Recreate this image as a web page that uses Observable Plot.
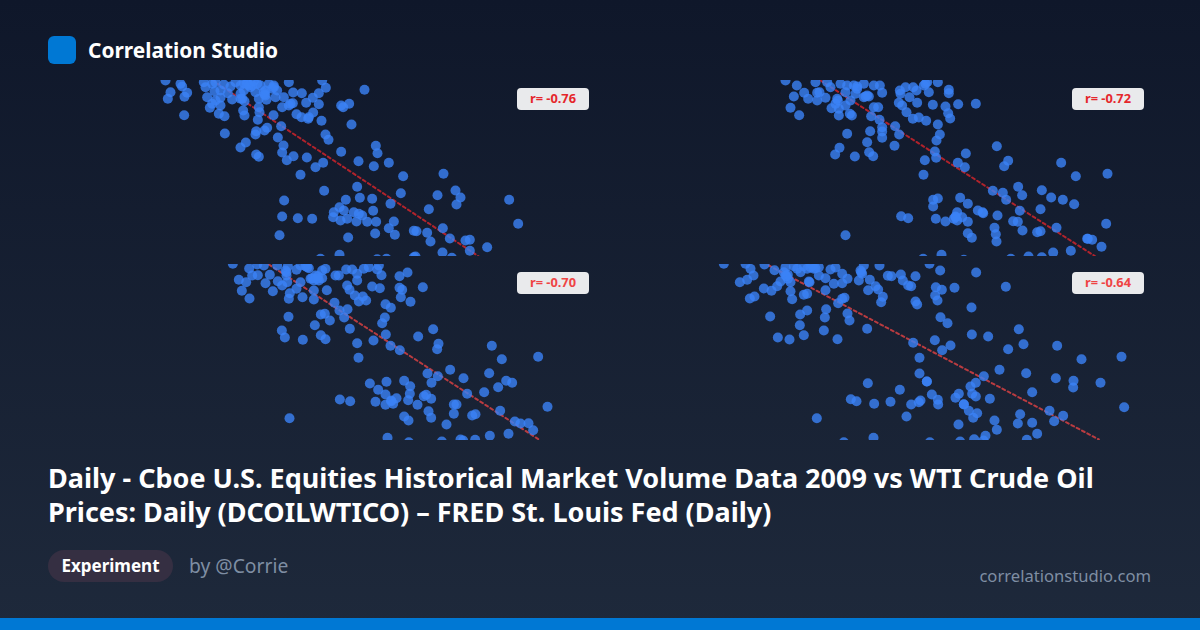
<!DOCTYPE html>
<html><head><meta charset="utf-8">
<script src="https://cdn.jsdelivr.net/npm/d3@7"></script>
<script src="https://cdn.jsdelivr.net/npm/@observablehq/plot@0.6"></script>
<style>
html,body{margin:0;padding:0}
body{width:1200px;height:630px;position:relative;overflow:hidden;background:linear-gradient(180deg,#0f172a 0%,#1e293b 100%);font-family:"Noto Sans",sans-serif;color:#fff}
.abs{position:absolute}
.logo{left:48px;top:36px;width:28px;height:28px;border-radius:6px;background:#0078d4}
.brand{left:88px;top:36px;line-height:28px;font-size:20.9px;font-weight:700;white-space:nowrap}
.panel{width:548px;height:176px}
.panel svg{display:block}
.badge{top:8px;width:72px;height:22px;line-height:21px;border-radius:4px;background:#e9eaec;font-size:12.8px;font-weight:700;text-align:center;white-space:nowrap}
.title{left:48px;top:461px;width:1104px;font-size:27px;line-height:34px;font-weight:700}
.pill{left:48px;top:550px;height:32px;line-height:32px;width:125px;text-align:center;border-radius:16px;background:#352f42;font-size:17px;font-weight:700}
.by{left:189px;top:550px;line-height:32px;font-size:19.3px;color:#7f8ea3}
.site{right:49px;top:560px;line-height:32px;font-size:16.6px;color:#7f8ea3}
.bar{left:0;top:618px;width:1200px;height:12px;background:#0078d4}
</style></head><body>
<div class="abs logo"></div><div class="abs brand">Correlation Studio</div>
<div id="charts"></div>
<div class="abs title">Daily - Cboe U.S. Equities Historical Market Volume Data 2009 vs WTI Crude Oil Prices: Daily (DCOILWTICO) – FRED St. Louis Fed (Daily)</div>
<div class="abs pill">Experiment</div><div class="abs by">by @Corrie</div>
<div class="abs site">correlationstudio.com</div><div class="abs bar"></div>
<script>
// Values, in reading units of each panel
const rValues = [-0.76, -0.72, -0.70, -0.64];
const xDomains = [[-276,1368],[-288,1356],[-456,1188],[-288,1356]];
const yDomains = [[30,558],[30,558],[27,555],[27,555]];
const trendA = [[217,30],[1015,558]];
const trendB = [[360,30],[1185,558]];
const trendC = [[205,27],[1015,552]];
const trendD = [[205,30],[1195,552]];
const pointsA = [[75,30],[120,40],[125,48],[90,65],[140,67],[132,79],[82,85],[131,134],[195,50],[200,80],[222,62],[240,82],[215,100],[240,105],[208,112],[235,130],[252,137],[253,189],[190,35],[215,40],[250,42],[270,48],[262,68],[275,87],[225,90],[300,85],[312,92],[308,120],[312,135],[300,45],[320,40],[335,45],[310,60],[345,65],[360,45],[385,40],[400,50],[375,75],[378,88],[355,85],[410,60],[405,80],[430,80],[445,35],[458,66],[484,68],[425,110],[445,105],[457,98],[497,97],[517,82],[535,68],[556,52],[545,30],[535,101],[518,126],[468,131],[483,140],[503,145],[505,140],[543,151],[602,105],[608,110],[626,100],[672,58],[633,162],[355,110],[357,125],[352,148],[399,134],[422,167],[380,172],[372,180],[347,182],[345,192],[412,201],[316,216],[300,231],[429,225],[425,246],[347,252],[355,259],[459,257],[439,269],[499,261],[548,277],[525,290],[480,313],[555,192],[564,208],[602,244],[654,272],[700,287],[706,226],[711,248],[745,277],[788,317],[909,310],[650,349],[551,361],[431,390],[616,388],[658,382],[695,385],[781,368],[750,400],[891,374],[945,360],[960,381],[948,402],[865,416],[1106,388],[1133,460],[597,410],[580,425],[610,420],[578,440],[600,450],[620,445],[640,425],[655,430],[665,435],[648,453],[680,454],[698,421],[707,454],[425,438],[472,443],[515,445],[417,494],[623,501],[704,489],[745,473],[763,493],[760,453],[820,481],[828,482],[860,487],[907,473],[870,513],[928,504],[975,510],[988,508],[988,541],[1040,530],[906,546],[934,562],[825,558],[820,560],[738,565],[597,553],[540,565],[710,566],[320,35],[330,50],[350,40],[370,65],[395,55],[300,70],[305,85],[450,100],[310,38],[325,45],[375,60],[400,45],[372,72],[285,35],[225,35],[240,60],[340,32]];
const pointsB = [[255,30],[289,45],[311,67],[280,78],[323,85],[350,90],[350,67],[357,65],[375,82],[270,112],[296,134],[345,35],[380,35],[390,50],[420,40],[435,65],[410,85],[405,100],[393,113],[415,115],[415,135],[435,105],[450,90],[448,130],[454,135],[440,45],[460,45],[470,55],[490,40],[465,70],[490,80],[500,75],[505,78],[520,45],[538,45],[545,67],[520,110],[533,110],[512,137],[537,148],[545,170],[545,183],[545,202],[509,182],[440,190],[500,215],[417,232],[404,252],[463,258],[506,245],[518,257],[582,226],[584,167],[596,192],[598,60],[600,70],[615,50],[638,50],[648,60],[627,80],[595,97],[605,105],[618,125],[637,145],[655,141],[677,151],[650,97],[697,103],[735,108],[773,101],[826,100],[745,58],[745,68],[685,65],[670,45],[680,35],[712,35],[743,128],[749,144],[712,162],[718,192],[708,210],[703,243],[707,262],[673,269],[669,313],[796,249],[772,277],[793,290],[889,227],[923,271],[911,287],[1082,277],[1126,317],[1221,310],[877,361],[907,367],[917,388],[953,349],[965,374],[1024,359],[1052,381],[1087,388],[1121,401],[1020,416],[958,421],[698,388],[712,384],[698,408],[779,382],[802,400],[770,425],[765,438],[760,445],[785,440],[770,450],[735,453],[706,445],[802,454],[832,420],[846,425],[891,435],[938,452],[952,454],[882,472],[886,491],[888,513],[966,480],[1010,485],[1020,482],[1068,472],[1217,460],[802,488],[814,502],[602,437],[623,443],[435,494],[1160,505],[1175,508],[1203,529],[1111,541],[1058,546],[1024,560],[984,558],[931,565],[723,553],[790,568],[668,565],[495,78],[470,48],[412,90],[765,440],[848,428],[1162,505],[675,40]];
const pointsC = [[97,25],[146,39],[115,73],[137,80],[124,106],[147,129],[155,60],[172,59],[170,27],[195,83],[208,58],[217,107],[190,30],[232,77],[245,90],[255,45],[258,60],[260,80],[268,113],[265,130],[288,100],[300,80],[288,43],[300,30],[320,35],[330,70],[340,75],[355,75],[365,68],[375,40],[365,45],[345,60],[340,105],[379,104],[306,125],[340,132],[402,142],[405,60],[415,60],[437,42],[455,42],[440,90],[447,103],[463,120],[487,123],[475,138],[497,135],[470,75],[470,55],[490,40],[505,35],[535,30],[543,59],[515,93],[538,98],[597,62],[621,51],[597,97],[605,103],[601,125],[630,139],[667,95],[555,146],[571,157],[553,186],[545,203],[417,165],[441,161],[431,186],[448,220],[388,195],[373,175],[361,177],[343,209],[264,184],[244,225],[253,246],[307,253],[361,239],[375,251],[470,263],[519,255],[556,237],[570,271],[598,284],[474,307],[653,243],[698,221],[714,265],[710,281],[874,271],[904,311],[1013,304],[681,354],[712,362],[749,343],[789,368],[693,382],[866,353],[917,376],[935,382],[893,395],[851,410],[800,415],[508,384],[558,379],[611,376],[629,392],[533,403],[555,417],[628,415],[623,434],[588,428],[572,437],[578,445],[555,448],[525,439],[418,432],[449,437],[651,448],[670,422],[677,418],[692,430],[760,447],[768,447],[760,475],[684,467],[692,487],[611,483],[624,495],[738,507],[815,480],[825,476],[899,466],[943,498],[960,504],[984,503],[998,524],[924,535],[868,541],[824,553],[780,552],[788,555],[724,558],[561,547],[267,488],[1041,454],[625,560],[335,68],[350,70],[325,38],[315,32],[258,50],[572,435],[352,62],[230,30],[262,32],[530,42]];
const pointsD = [[70,25],[135,25],[150,40],[159,60],[140,73],[118,80],[192,27],[222,44],[190,99],[213,106],[230,92],[240,78],[255,60],[262,70],[270,80],[270,107],[275,131],[162,123],[148,129],[310,118],[320,115],[327,80],[290,40],[320,40],[340,40],[355,35],[255,35],[300,50],[355,60],[375,68],[390,42],[405,36],[425,55],[441,70],[425,83],[400,85],[375,104],[413,143],[425,130],[432,127],[480,45],[485,55],[475,75],[490,30],[508,73],[503,104],[525,92],[533,102],[537,30],[547,124],[542,140],[562,61],[573,62],[601,57],[607,75],[623,90],[632,92],[645,62],[687,25],[719,45],[827,51],[706,95],[724,103],[762,97],[916,94],[704,120],[711,135],[645,138],[650,147],[813,156],[720,185],[741,203],[377,161],[373,186],[320,165],[299,177],[209,183],[298,209],[370,225],[310,239],[232,246],[267,252],[411,251],[441,174],[447,195],[500,220],[638,262],[657,307],[703,254],[725,284],[750,270],[814,237],[863,243],[955,221],[969,266],[923,281],[1070,271],[1143,311],[1263,304],[897,343],[977,353],[850,362],[826,382],[810,393],[657,354],[679,378],[502,383],[598,403],[694,417],[712,433],[713,447],[660,435],[655,440],[632,447],[570,439],[521,445],[468,437],[451,431],[765,427],[775,415],[815,415],[826,423],[868,430],[995,410],[1066,368],[1119,376],[1118,396],[1200,382],[1271,455],[790,447],[805,466],[830,473],[818,487],[618,483],[349,488],[774,507],[882,495],[889,523],[952,504],[959,476],[995,502],[1047,466],[1061,497],[1088,481],[1010,535],[979,553],[855,541],[849,555],[821,551],[779,558],[519,547],[688,560],[430,560],[258,62],[262,58],[250,50],[330,35],[335,30],[345,38],[325,78],[482,50],[679,378],[790,446],[280,32],[310,32]];

const allPoints = [pointsA, pointsB, pointsC, pointsD];
const allTrends = [trendA, trendB, trendC, trendD];
const lefts = [48, 604], tops = [80, 264];
const inks = ["#e5262b", "#e5262b", "#ef4444", "#ef4444"];
const host = document.getElementById("charts");
allPoints.forEach((pts, i) => {
  const p = Plot.plot({
    width: 548, height: 176, margin: 0,
    style: {background: "transparent"},
    x: {domain: xDomains[i], axis: null},
    y: {domain: [yDomains[i][1], yDomains[i][0]], axis: null},
    marks: [
      Plot.line(allTrends[i], {x: d => d[0], y: d => d[1], stroke: inks[i], strokeOpacity: 0.75, strokeWidth: 2, strokeDasharray: "3 3", clip: true}),
      Plot.dot(pts, {x: d => d[0], y: d => d[1], r: 5, fill: "#3b82f6", fillOpacity: 0.8, clip: true})
    ]
  });
  const div = document.createElement("div");
  div.className = "abs panel";
  div.style.left = lefts[i % 2] + "px";
  div.style.top = tops[i >> 1] + "px";
  div.appendChild(p);
  const b = document.createElement("div");
  b.className = "abs badge";
  b.style.right = (i % 2 ? 8 : 7) + "px";
  b.style.color = inks[i];
  b.textContent = "r= " + rValues[i].toFixed(2);
  div.appendChild(b);
  host.appendChild(div);
});
</script>
</body></html>
